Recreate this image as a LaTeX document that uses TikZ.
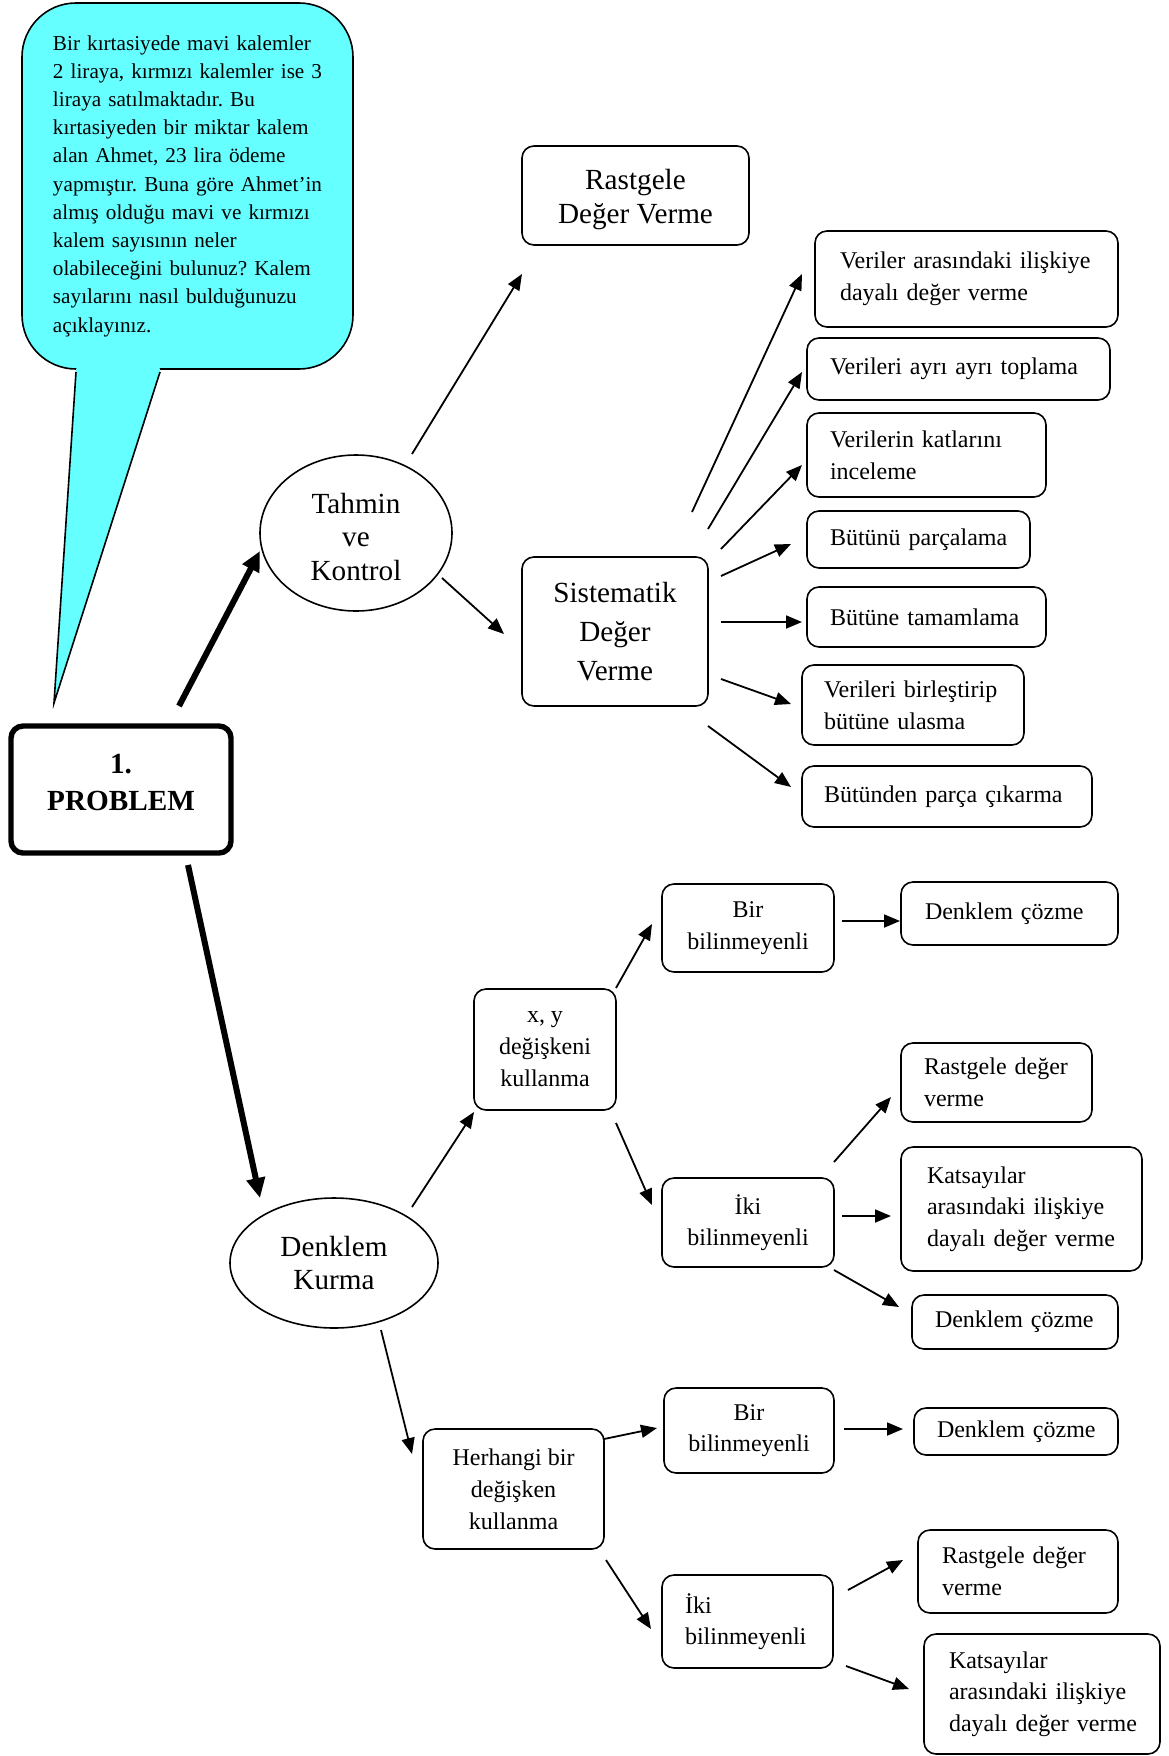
\documentclass[tikz,border=0pt]{standalone}
\usepackage{fontspec}
\setmainfont{Liberation Serif}
\usetikzlibrary{arrows.meta,shapes.geometric}
\definecolor{bubblecyan}{HTML}{66FFFF}
% a line of text that is never broken
\newcommand\unbroken[1]{\mbox{#1}}
\frenchspacing
\begin{document}
\begin{tikzpicture}[
  x=0.5pt, y=-0.5pt,
  wh/.style 2 args={minimum width=#1, minimum height=#2},
  pad/.style 2 args={inner xsep=#1, text width=#2},
  box/.style={draw, line width=0.8pt, rounded corners=6pt, inner sep=0pt},
  small/.style={font=\fontsize{12}{15.8}\selectfont},
  large/.style={font=\fontsize{14.6}{16.8}\selectfont},
  cbox/.style={box, small, align=center},
  lbox/.style={box, small, align=left},
  oval/.style={draw, ellipse, line width=0.8pt, inner sep=0pt, large, align=center},
  arr/.style={line width=0.9pt, -{Triangle[length=8pt,width=6.5pt]}},
  bigarr/.style={line width=3pt, -{Triangle[length=10pt,width=9pt]}},
]
\useasboundingbox (0,0) rectangle (1168,1756);

% speech bubble with the problem statement
\node[draw, fill=bubblecyan, line width=0.8pt, rounded corners=27pt,
      wh={165.5pt}{183pt}, pad={15.5pt}{134.5pt}, inner ysep=0pt, align=left,
      font=\fontsize{10.6}{14.1}\selectfont] (stmt) at (187.5,186) {%
\unbroken{Bir kırtasiyede mavi kalemler}\\
\unbroken{2 liraya, kırmızı kalemler ise 3}\\
\unbroken{liraya satılmaktadır. Bu}\\
\unbroken{kırtasiyeden bir miktar kalem}\\
\unbroken{alan Ahmet, 23 lira ödeme}\\
\unbroken{yapmıştır. Buna göre Ahmet’in}\\
\unbroken{almış olduğu mavi ve kırmızı}\\
\unbroken{kalem sayısının neler}\\
\unbroken{olabileceğini bulunuz? Kalem}\\
\unbroken{sayılarını nasıl bulduğunuzu}\\
\unbroken{açıklayınız.}};
\coordinate (tail-l) at (76,372);
\coordinate (tail-r) at (160,372);
\coordinate (tail-tip) at (54,703);
\fill[bubblecyan] (77,360) -- (159,360) -- (tail-r) -- (tail-tip) -- (tail-l) -- cycle;
\draw[line width=0.8pt] (tail-l) -- (tail-tip) -- (tail-r);

% main problem box
\node[draw, line width=2.7pt, rounded corners=6pt, wh={110pt}{63.5pt}, align=center,
      font=\fontsize{14.6}{18.5}\selectfont\bfseries] (prob) at (121,789.5)
      {1.\\PROBLEM\rule[-7pt]{0pt}{7pt}};

% guess and check branch
\node[oval, wh={96pt}{78pt}] (tk) at (356,533) {\rule{0pt}{14pt}Tahmin\\ve\\Kontrol};
\node[box, large, align=center, wh={113.5pt}{49.5pt}] (rdv) at (635.5,195.5) {\rule{0pt}{14pt}Rastgele\\Değer Verme};
\node[box, align=center, font=\fontsize{14.6}{19.6}\selectfont, wh={93pt}{74.5pt}] (sdv) at (615,631.5) {Sistematik\\Değer\\Verme};

\node[lbox, wh={151.5pt}{48pt}, pad={12.5pt}{126.5pt}] (s1) at (966.5,279) {\unbroken{Veriler arasındaki ilişkiye}\\\unbroken{dayalı değer verme}};
\node[lbox, wh={151.5pt}{31pt}, pad={11.5pt}{128.5pt}] (s2) at (958.5,369) {\unbroken{Verileri ayrı ayrı toplama}};
\node[lbox, wh={119.5pt}{42pt}, pad={11.5pt}{96.5pt}] (s3) at (926.5,455) {\unbroken{Verilerin katlarını}\\inceleme};
\node[lbox, wh={111.5pt}{28.5pt}, pad={11.5pt}{88.5pt}] (s4) at (918.5,539.5) {\unbroken{Bütünü parçalama}};
\node[lbox, wh={119.5pt}{30pt}, pad={11.5pt}{96.5pt}] (s5) at (926.5,617) {\unbroken{Bütüne tamamlama}};
\node[lbox, wh={111pt}{40pt}, pad={11pt}{89pt}] (s6) at (913,705) {\unbroken{Verileri birleştirip}\\\unbroken{bütüne ulasma}};
\node[lbox, wh={145pt}{30.5pt}, pad={11pt}{123pt}] (s7) at (947,796.5) {\unbroken{Bütünden parça çıkarma}};

% equation branch
\node[oval, wh={104pt}{65pt}] (dk) at (334,1263) {Denklem\\Kurma};
\node[cbox, wh={71pt}{60.5pt}, font=\fontsize{12}{16}\selectfont] (xy) at (545,1049.5) {x, y\\değişkeni\\kullanma};
\node[cbox, wh={86pt}{44pt}] (bir1) at (748,928) {Bir\\bilinmeyenli};
\node[lbox, wh={108.5pt}{31.5pt}, pad={12pt}{84.5pt}] (dc1) at (1009.5,913.5) {\unbroken{Denklem çözme}};
\node[cbox, wh={86pt}{44.5pt}] (iki1) at (748,1222.5) {İki\\bilinmeyenli};
\node[lbox, wh={95.5pt}{39.5pt}, pad={11.5pt}{72.5pt}] (rd1) at (996.5,1082.5) {\unbroken{Rastgele değer}\\verme};
\node[lbox, wh={120.5pt}{62pt}, pad={13pt}{94.5pt}] (ks1) at (1021.5,1209) {Katsayılar\\\unbroken{arasındaki ilişkiye}\\\unbroken{dayalı değer verme}};
\node[lbox, wh={103pt}{27pt}, pad={11.5pt}{80pt}] (dc2) at (1015,1322) {\unbroken{Denklem çözme}};

\node[cbox, wh={90.5pt}{60pt}, font=\fontsize{12}{16}\selectfont] (hb) at (513.5,1489) {Herhangi bir\\değişken\\kullanma};
\node[cbox, wh={85pt}{42.5pt}] (bir2) at (749,1430.5) {Bir\\bilinmeyenli};
\node[lbox, wh={102pt}{23.5pt}, pad={11.5pt}{79pt}] (dc3) at (1016,1431.5) {\unbroken{Denklem çözme}};
\node[lbox, wh={85.5pt}{46.5pt}, pad={11.5pt}{62.5pt}] (iki2) at (747.5,1621.5) {İki\\bilinmeyenli};
\node[lbox, wh={100pt}{41.5pt}, pad={12pt}{76pt}] (rd2) at (1018,1571.5) {\unbroken{Rastgele değer}\\verme};
\node[lbox, wh={118pt}{60pt}, pad={12.5pt}{93pt}] (ks2) at (1042,1694) {Katsayılar\\\unbroken{arasındaki ilişkiye}\\\unbroken{dayalı değer verme}};

% connector end points
\coordinate (prob-tk) at (179,706);   \coordinate (tk-in) at (260,551);
\coordinate (prob-dk) at (188,865);   \coordinate (dk-in) at (260,1198);
\coordinate (tk-rdv) at (412,454);    \coordinate (rdv-in) at (522,274);
\coordinate (tk-sdv) at (442,578);    \coordinate (sdv-in) at (504,634);
\coordinate (sdv-1) at (692,512);     \coordinate (s1-in) at (802,274);
\coordinate (sdv-2) at (708,529);     \coordinate (s2-in) at (802,372);
\coordinate (sdv-3) at (721,549);     \coordinate (s3-in) at (802,465);
\coordinate (sdv-4) at (721,576);     \coordinate (s4-in) at (791,544);
\coordinate (sdv-5) at (721,622);     \coordinate (s5-in) at (802,622);
\coordinate (sdv-6) at (721,679);     \coordinate (s6-in) at (791,704);
\coordinate (sdv-7) at (708,726);     \coordinate (s7-in) at (791,787);
\coordinate (dk-xy) at (412,1207);    \coordinate (xy-in) at (474,1112);
\coordinate (xy-bir) at (616,988);    \coordinate (bir1-in) at (652,924);
\coordinate (bir1-dc) at (842,921);   \coordinate (dc1-in) at (900,921);
\coordinate (xy-iki) at (616,1123);   \coordinate (iki1-in) at (652,1205);
\coordinate (iki1-rd) at (834,1162);  \coordinate (rd1-in) at (891,1097);
\coordinate (iki1-ks) at (842,1216);  \coordinate (ks1-in) at (891,1216);
\coordinate (iki1-dc) at (834,1270);  \coordinate (dc2-in) at (899,1307);
\coordinate (dk-hb) at (381,1330);    \coordinate (hb-in) at (412,1454);
\coordinate (hb-bir) at (604,1439);   \coordinate (bir2-in) at (657,1428);
\coordinate (bir2-dc) at (844,1429);  \coordinate (dc3-in) at (903,1429);
\coordinate (hb-iki) at (606,1560);   \coordinate (iki2-in) at (651,1629);
\coordinate (iki2-rd) at (848,1590);  \coordinate (rd2-in) at (903,1560);
\coordinate (iki2-ks) at (846,1666);  \coordinate (ks2-in) at (909,1689);

% connectors
\draw[bigarr] (prob-tk) -- (tk-in);
\draw[bigarr] (prob-dk) -- (dk-in);
\draw[arr] (tk-rdv) -- (rdv-in);
\draw[arr] (tk-sdv) -- (sdv-in);
\foreach \i in {1,...,7} { \draw[arr] (sdv-\i) -- (s\i-in); }
\draw[arr] (dk-xy) -- (xy-in);
\draw[arr] (xy-bir) -- (bir1-in);
\draw[arr] (bir1-dc) -- (dc1-in);
\draw[arr] (xy-iki) -- (iki1-in);
\draw[arr] (iki1-rd) -- (rd1-in);
\draw[arr] (iki1-ks) -- (ks1-in);
\draw[arr] (iki1-dc) -- (dc2-in);
\draw[arr] (dk-hb) -- (hb-in);
\draw[arr] (hb-bir) -- (bir2-in);
\draw[arr] (bir2-dc) -- (dc3-in);
\draw[arr] (hb-iki) -- (iki2-in);
\draw[arr] (iki2-rd) -- (rd2-in);
\draw[arr] (iki2-ks) -- (ks2-in);
\end{tikzpicture}
\end{document}
